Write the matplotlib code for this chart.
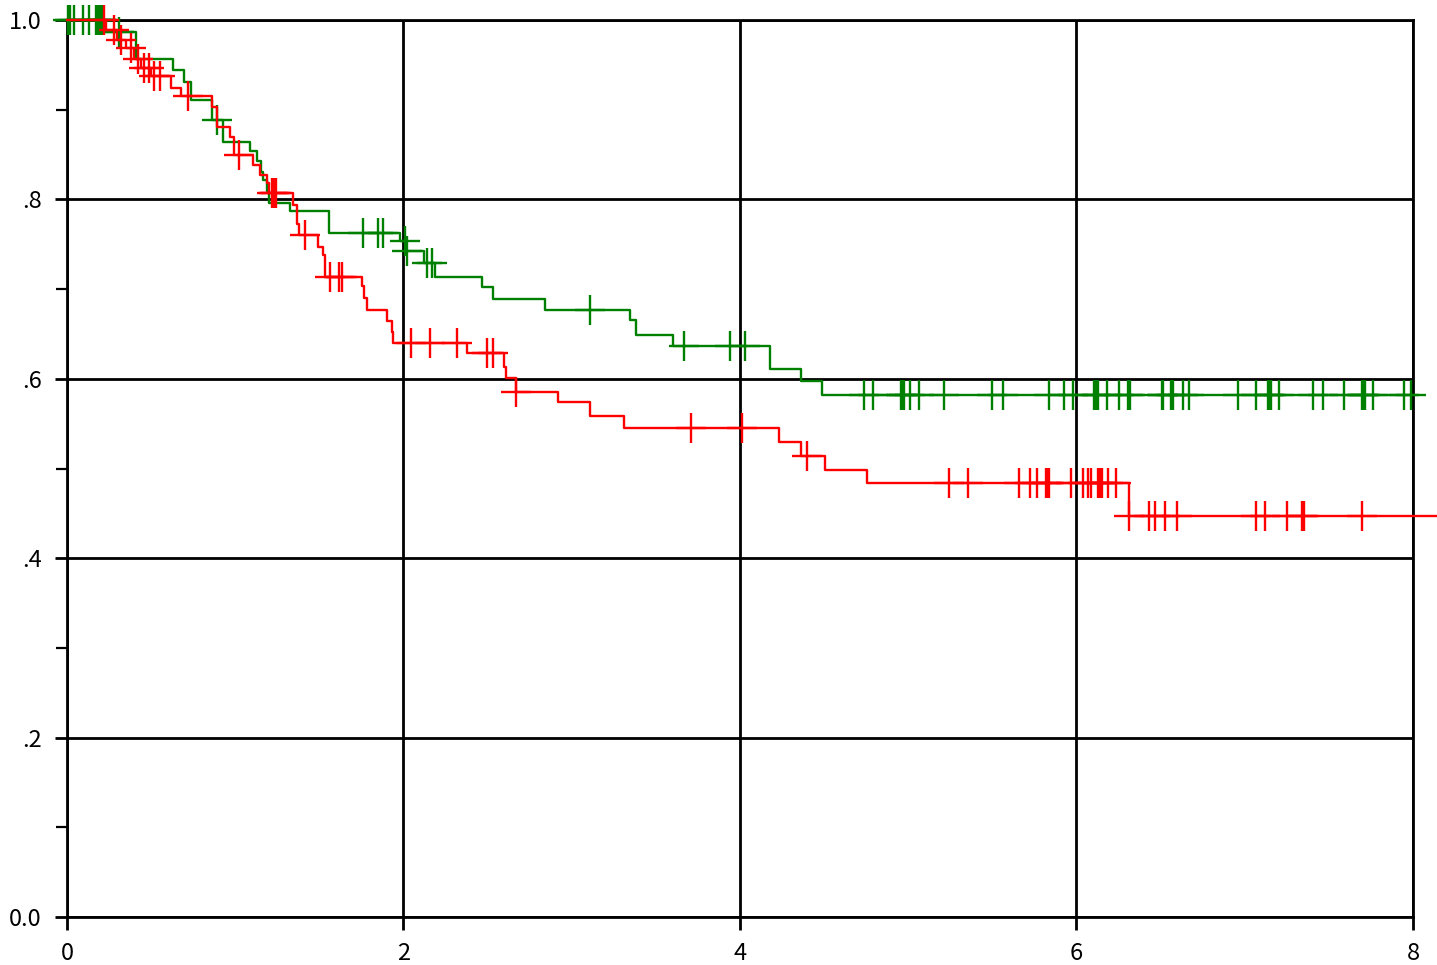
import matplotlib
matplotlib.use("Agg")
import matplotlib.pyplot as plt
from matplotlib.ticker import MultipleLocator, FixedLocator
import numpy as np

plt.rcParams['font.family'] = ['Noto Sans CJK JP', 'DejaVu Sans']

# green group: step times and survival after each step
green_times = [0, 0.21, 0.41, 0.63, 0.695, 0.74, 0.86, 0.925, 1.088, 1.131,
               1.151, 1.167, 1.187, 1.20, 1.325, 1.56, 1.98, 2.015, 2.12, 2.187,
               2.465, 2.53, 2.84, 3.346, 3.38, 3.60, 4.18, 4.36, 4.49]
green_surv = [1.0, 0.987, 0.956, 0.944, 0.931, 0.911, 0.889, 0.864, 0.854, 0.843,
              0.831, 0.822, 0.809, 0.796, 0.787, 0.763, 0.754, 0.742, 0.729, 0.714,
              0.702, 0.689, 0.677, 0.665, 0.649, 0.637, 0.611, 0.598, 0.5816]
green_end = 7.988
green_censor = [0.005, 0.02, 0.04, 0.097, 0.133, 0.172, 0.182, 0.192, 0.2, 0.206,
                0.31, 0.89, 1.76, 1.85, 1.88, 2.01, 2.02, 2.138, 2.171, 3.11,
                3.67, 3.94, 4.03, 4.737, 4.79, 4.955, 4.963, 4.975, 5.01, 5.064,
                5.212, 5.496, 5.563, 5.837, 5.926, 5.979, 6.104, 6.116, 6.128, 6.181,
                6.253, 6.306, 6.318, 6.508, 6.514, 6.562, 6.574, 6.633, 6.669, 6.96,
                7.067, 7.138, 7.144, 7.156, 7.203, 7.405, 7.465, 7.59, 7.697, 7.703,
                7.715, 7.762, 7.947, 7.988]

# red group
red_times = [0, 0.23, 0.30, 0.35, 0.40, 0.44, 0.50, 0.62, 0.68, 0.86,
             0.89, 0.97, 0.99, 1.105, 1.147, 1.187, 1.20, 1.345, 1.365, 1.38,
             1.494, 1.524, 1.533, 1.751, 1.763, 1.781, 1.90, 1.93, 1.94, 2.376,
             2.597, 2.609, 2.669, 2.92, 3.108, 3.313, 4.234, 4.363, 4.505, 4.757,
             6.31]
red_surv = [1.0, 0.989, 0.978, 0.969, 0.957, 0.946, 0.9376, 0.924, 0.915, 0.903,
            0.881, 0.87, 0.8495, 0.838, 0.827, 0.818, 0.807, 0.794, 0.773, 0.76,
            0.747, 0.738, 0.714, 0.703, 0.69, 0.677, 0.664, 0.6525, 0.64, 0.629,
            0.6135, 0.6005, 0.5856, 0.5745, 0.559, 0.5448, 0.529, 0.5143, 0.4987, 0.4835,
            0.4474]
red_end = 8.2
red_censor = [0.22, 0.28, 0.32, 0.38, 0.42, 0.46, 0.49, 0.52, 0.55, 0.72,
              1.02, 1.22, 1.23, 1.24, 1.415, 1.563, 1.618, 1.633, 2.043, 2.158,
              2.32, 2.498, 2.53, 2.669, 3.709, 4.014, 4.396, 5.244, 5.353, 5.658,
              5.723, 5.763, 5.819, 5.826, 5.838, 5.967, 6.037, 6.07, 6.084, 6.126,
              6.14, 6.15, 6.185, 6.235, 6.31, 6.433, 6.467, 6.526, 6.596, 7.067,
              7.12, 7.249, 7.338, 7.354, 7.695]

x_ticks = [0, 2, 4, 6, 8]
y_ticks = [0.0, 0.2, 0.4, 0.6, 0.8, 1.0]
y_labels = ['0.0', '.2', '.4', '.6', '.8', '1.0']


def draw_km(ax, times, surv, end, censor, color):
    t = list(times) + [end]
    s = list(surv) + [surv[-1]]
    ax.step(t, s, where='post', color=color, lw=1.7, clip_on=False, zorder=3)
    idx = np.searchsorted(times, censor, side='right') - 1
    cy = np.array(surv)[idx]
    ax.plot(censor, cy, ls='none', marker='+', ms=21.5, mew=1.7,
            color=color, clip_on=False, zorder=3)


fig = plt.figure(figsize=(14.37, 9.65), dpi=100)
ax = fig.add_axes([0.0466, 0.0497, 0.9367, 0.9296])

draw_km(ax, green_times, green_surv, green_end, green_censor, '#008000')
draw_km(ax, red_times, red_surv, red_end, red_censor, '#ff0000')

ax.set_xlim(0, 8)
ax.set_ylim(0, 1)
ax.xaxis.set_major_locator(FixedLocator(x_ticks))
ax.set_xticklabels([str(v) for v in x_ticks])
ax.yaxis.set_major_locator(FixedLocator(y_ticks))
ax.set_yticklabels(y_labels)
ax.yaxis.set_minor_locator(MultipleLocator(0.1))

ax.grid(True, which='major', color='black', lw=2.0, zorder=1)
for sp in ax.spines.values():
    sp.set_linewidth(2.0)
    sp.set_zorder(1)
ax.tick_params(axis='both', which='major', length=9, width=2.0, labelsize=17, pad=9)
ax.tick_params(axis='y', which='minor', length=8, width=1.6)
ax.set_axisbelow(True)

fig.savefig('out.png', dpi=100)
